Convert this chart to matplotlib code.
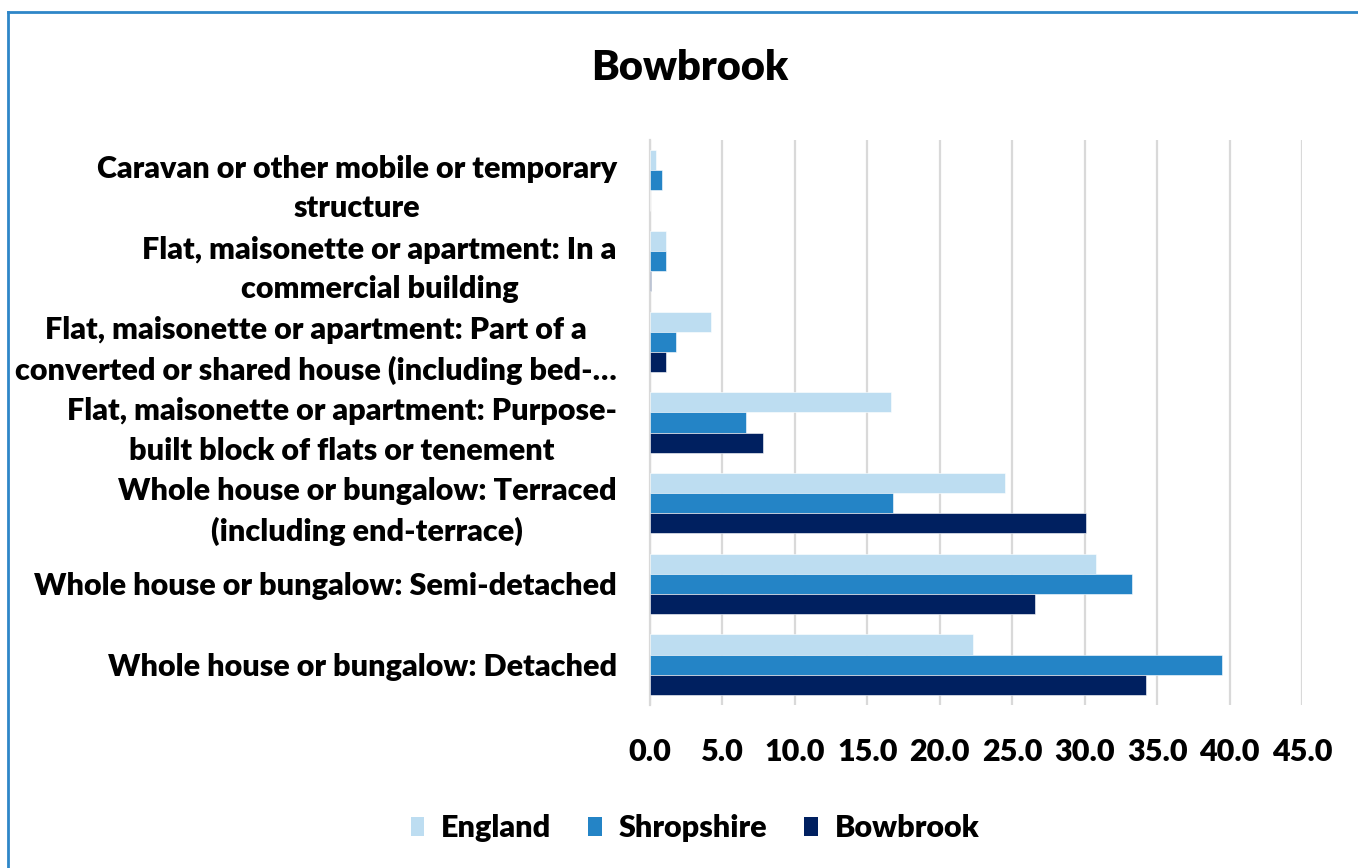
import matplotlib
matplotlib.use("Agg")
import matplotlib.pyplot as plt
from matplotlib.lines import Line2D
from matplotlib.patches import Patch
import numpy as np

plt.rcParams['font.family'] = ['Lato', 'DejaVu Sans']

categories = [
    "Whole house or bungalow: Detached",
    "Whole house or bungalow: Semi-detached",
    "Whole house or bungalow: Terraced\n(including end-terrace)",
    "Flat, maisonette or apartment: Purpose-\nbuilt block of flats or tenement",
    "Flat, maisonette or apartment: Part of a\nconverted or shared house (including bed-\u2026",
    "Flat, maisonette or apartment: In a\ncommercial building",
    "Caravan or other mobile or temporary\nstructure",
]
england = [22.3, 30.8, 24.5, 16.6, 4.2, 1.1, 0.4]
shropshire = [39.5, 33.3, 16.8, 6.6, 1.8, 1.1, 0.8]
bowbrook = [34.2, 26.6, 30.1, 7.8, 1.1, 0.05, 0.0]
series_names = ["England", "Shropshire", "Bowbrook"]
colors = ["#BDDDF1", "#2484C6", "#002060"]
xticks = [0, 5, 10, 15, 20, 25, 30, 35, 40, 45]

W, H = 1358, 868
fig = plt.figure(figsize=(W / 100, H / 100), dpi=100)
ax = fig.add_axes([650 / W, 1 - 705 / H, (1302 - 650) / W, (705 - 140) / H])

y = np.arange(len(categories))
h = 0.25
for vals, off, col, name in zip([england, shropshire, bowbrook], [h, 0, -h], colors, series_names):
    ax.barh(y + off, vals, height=h, color=col, edgecolor='white', linewidth=0.4, label=name, zorder=3)

ax.set_xlim(0, 45)
ax.set_ylim(-0.5, len(categories) - 0.5)
ax.set_xticks(xticks)
ax.set_xticklabels([f"{v:.1f}" for v in xticks], fontsize=22, fontweight='heavy')
ax.set_yticks(y)
ax.set_yticklabels(categories, fontsize=22, fontweight='heavy', multialignment='center', linespacing=1.5)
ax.tick_params(axis='both', length=0)
ax.tick_params(axis='x', pad=24)
ax.tick_params(axis='y', pad=24)
ax.grid(axis='x', color='#D9D9D9', linewidth=1.6, zorder=0)
for s in ['top', 'right', 'bottom']:
    ax.spines[s].set_visible(False)
ax.spines['left'].set_color('#D9D9D9')
ax.spines['left'].set_linewidth(1.6)

fig.text(690 / W, 1 - 68 / H, "Bowbrook", ha='center', va='center', fontsize=30, fontweight='heavy')

handles = [Patch(facecolor=c, edgecolor='none') for c in colors]
fig.legend(handles, series_names, loc='center', bbox_to_anchor=(695 / W, 1 - 828 / H), ncol=3,
           frameon=False, prop={'size': 22, 'weight': 'heavy'}, handlelength=0.45, handleheight=0.6,
           columnspacing=1.2, handletextpad=0.55)

fig.add_artist(Line2D([8 / W, 1], [1 - 12 / H, 1 - 12 / H], transform=fig.transFigure, color='#2E86C8', linewidth=2))
fig.add_artist(Line2D([8 / W, 8 / W], [0, 1 - 12 / H], transform=fig.transFigure, color='#2E86C8', linewidth=2))

fig.savefig("out.png", dpi=100, facecolor='white')
